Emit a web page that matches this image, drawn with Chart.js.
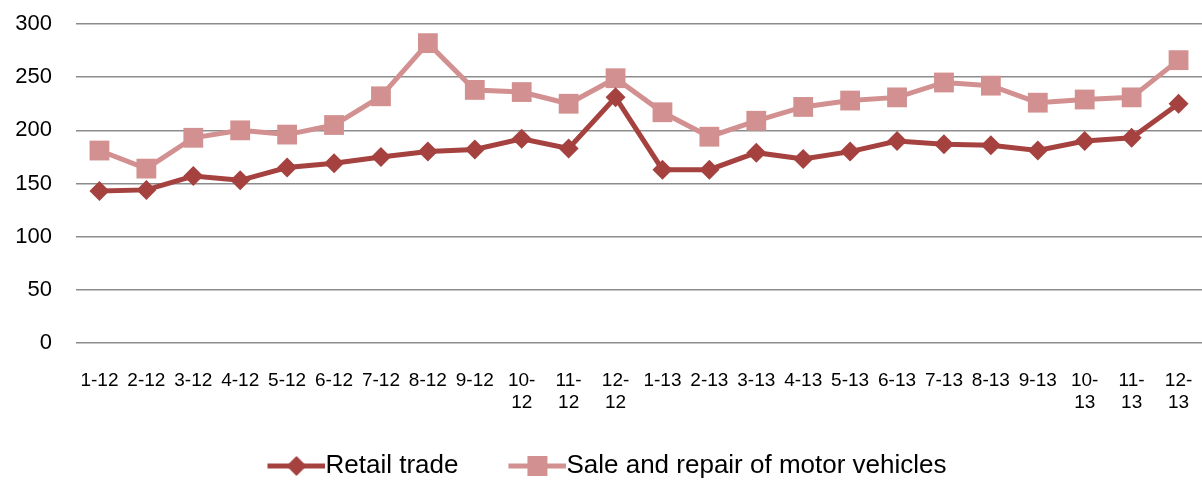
<!DOCTYPE html>
<html>
<head>
<meta charset="utf-8">
<script src="https://cdn.jsdelivr.net/npm/chart.js@4.4.0/dist/chart.umd.min.js"></script>
<style>
  html, body { margin: 0; padding: 0; background: #fff; overflow: hidden; }
  #wrap { width: 1202px; height: 481px; overflow: hidden; }
  #myChart { margin-left: -28px; display: block; }
</style>
</head>
<body>
<div id="wrap"><canvas id="myChart" width="1230" height="489"></canvas></div>
<script>
var months = ["1-12", "2-12", "3-12", "4-12", "5-12", "6-12", "7-12", "8-12", "9-12", ["10-", "12"], ["11-", "12"], ["12-", "12"],
  "1-13", "2-13", "3-13", "4-13", "5-13", "6-13", "7-13", "8-13", "9-13", ["10-", "13"], ["11-", "13"], ["12-", "13"]];
var retailTrade = [143, 144, 157, 153, 165, 169, 175, 180, 182, 192, 183, 231,
  163, 163, 179, 173, 180, 190, 187, 186, 181, 190, 193, 225];
var motorVehicles = [181, 164, 193, 200, 196, 205, 232, 282, 238, 236, 225, 249,
  217, 194, 209, 222, 228, 231, 245, 242, 226, 229, 231, 266];
var yTicks = [0, 50, 100, 150, 200, 250, 300];

var retailColor = "#a5423f";
var motorColor = "#d29190";

// legend icon: line with the marker in the middle, ending where the text starts
makeIcon = (color, shape) => {
  var c = document.createElement("canvas");
  c.width = 111;
  c.height = 22;
  var g = c.getContext("2d");
  g.strokeStyle = color;
  g.lineWidth = 5;
  g.beginPath();
  g.moveTo(111 - 58, 11);
  g.lineTo(111, 11);
  g.stroke();
  g.fillStyle = color;
  var cx = 111 - 29;
  if (shape == "diamond") {
    g.beginPath();
    g.moveTo(cx, 1);
    g.lineTo(cx + 10, 11);
    g.lineTo(cx, 21);
    g.lineTo(cx - 10, 11);
    g.closePath();
    g.fill();
  } else {
    g.fillRect(cx - 10, 1, 20, 20);
  }
  return c;
};

var icons = [makeIcon(retailColor, "diamond"), makeIcon(motorColor, "square")];

new Chart(document.getElementById("myChart"), {
  type: "line",
  data: {
    labels: months,
    datasets: [
      {
        label: "Retail trade",
        data: retailTrade,
        borderColor: retailColor,
        backgroundColor: retailColor,
        borderWidth: 5,
        pointStyle: "rectRot",
        pointRadius: 10,
        pointHoverRadius: 10,
        pointBorderWidth: 0,
        tension: 0,
        fill: false
      },
      {
        label: "Sale and repair of motor vehicles",
        data: motorVehicles,
        borderColor: motorColor,
        backgroundColor: motorColor,
        borderWidth: 5,
        pointStyle: "rect",
        pointRadius: 14,
        pointHoverRadius: 14,
        pointBorderWidth: 0,
        tension: 0,
        fill: false
      }
    ]
  },
  options: {
    responsive: false,
    animation: false,
    layout: { autoPadding: false, padding: { top: 24, right: 0, bottom: 0, left: 0 } },
    plugins: {
      tooltip: { enabled: false },
      legend: {
        position: "bottom",
        labels: {
          usePointStyle: true,
          pointStyleWidth: 85,
          padding: 10,
          color: "#000",
          font: { family: "'Liberation Sans', Arial, sans-serif", size: 26 },
          generateLabels: chart => {
            var items = Chart.defaults.plugins.legend.labels.generateLabels(chart);
            items.forEach((it, i) => { it.pointStyle = icons[i]; });
            return items;
          }
        }
      }
    },
    scales: {
      x: {
        offset: true,
        grid: { display: false },
        border: { display: false },
        ticks: {
          color: "#000",
          maxRotation: 0,
          autoSkip: false,
          padding: 18,
          font: { family: "'Liberation Sans', Arial, sans-serif", size: 19, lineHeight: 1.2 }
        },
        afterFit: s => {
          s.height = 100;
          s.paddingLeft = 0;
          s.paddingRight = 0;
        }
      },
      y: {
        min: 0,
        max: 300,
        afterBuildTicks: s => { s.ticks = yTicks.map(v => ({ value: v })); },
        grid: { color: "#8c8c8c", lineWidth: 1.5, drawTicks: false },
        border: { display: false },
        ticks: {
          color: "#000",
          padding: 24,
          font: { family: "'Liberation Sans', Arial, sans-serif", size: 22 }
        },
        afterFit: s => {
          s.width = 104;
          s.paddingTop = 0;
          s.paddingBottom = 0;
        }
      }
    }
  }
});
</script>
</body>
</html>
